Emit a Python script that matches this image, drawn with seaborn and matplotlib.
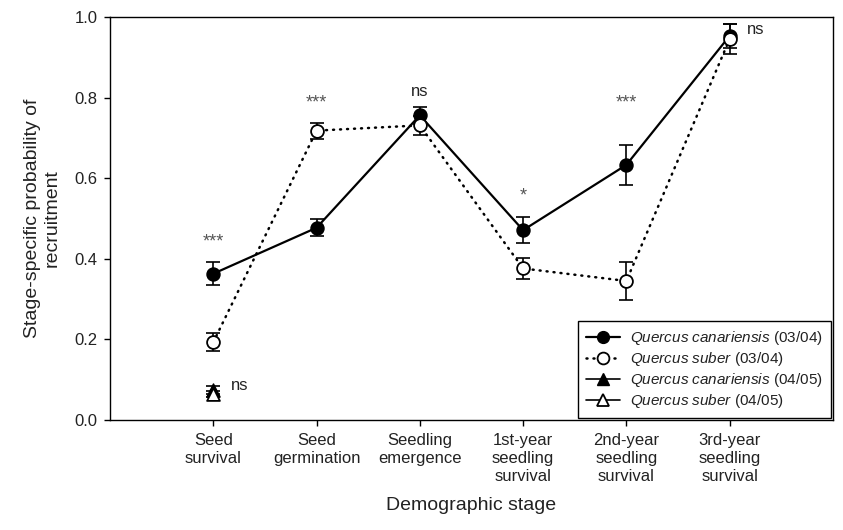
import numpy as np
import pandas as pd
import matplotlib
matplotlib.use("Agg")
import matplotlib.pyplot as plt
import seaborn as sns
from matplotlib.lines import Line2D

# --- data ---
stages = ["Seed\nsurvival", "Seed\ngermination", "Seedling\nemergence",
          "1st-year\nseedling\nsurvival", "2nd-year\nseedling\nsurvival",
          "3rd-year\nseedling\nsurvival"]

canariensis_0304 = [0.363, 0.477, 0.756, 0.471, 0.633, 0.953]
canariensis_0304_err = [0.028, 0.021, 0.021, 0.032, 0.050, 0.030]

suber_0304 = [0.193, 0.718, 0.731, 0.376, 0.345, 0.945]
suber_0304_err = [0.022, 0.020, 0.024, 0.027, 0.046, 0.038]

canariensis_0405 = [0.074]
canariensis_0405_err = [0.010]
suber_0405 = [0.064]
suber_0405_err = [0.008]

# significance labels: (stage index, y position, text)
sig_pos = [0, 1, 2, 3, 4]
sig_y = [0.45, 0.795, 0.815, 0.565, 0.795]
sig_text = ["***", "***", "ns", "*", "***"]

# --- style ---
sns.set_theme(style="ticks")
plt.rcParams["font.family"] = ["Liberation Sans", "DejaVu Sans"]
plt.rcParams["mathtext.fontset"] = "custom"
plt.rcParams["mathtext.rm"] = "Liberation Sans"
plt.rcParams["mathtext.it"] = "Liberation Sans:italic"

fig = plt.figure(figsize=(8.43, 5.30), dpi=100)
ax = fig.add_axes([0.1305, 0.2075, 0.8575, 0.7605])

x = np.arange(len(stages))
df = pd.DataFrame({"x": np.concatenate([x, x]),
                   "p": canariensis_0304 + suber_0304,
                   "species": ["can"] * len(x) + ["sub"] * len(x)})

# error bars first (behind markers)
eb = dict(fmt="none", ecolor="black", elinewidth=1.2, capsize=5, capthick=1.2, zorder=2)
ax.errorbar(x, canariensis_0304, yerr=canariensis_0304_err, **eb)
ax.errorbar(x, suber_0304, yerr=suber_0304_err, **eb)
ax.errorbar([0], canariensis_0405, yerr=canariensis_0405_err, **eb)
ax.errorbar([0], suber_0405, yerr=suber_0405_err, **eb)

# lines
sns.lineplot(data=df[df.species == "can"], x="x", y="p", ax=ax, color="black",
             linewidth=1.6, zorder=3, legend=False)
sns.lineplot(data=df[df.species == "sub"], x="x", y="p", ax=ax, color="black",
             linewidth=1.8, zorder=3, legend=False)
ax.lines[-1].set_dashes((0.4, 2.4))
ax.lines[-1].set_dash_capstyle("round")

# markers
sns.scatterplot(x=x, y=canariensis_0304, ax=ax, marker="o", s=88,
                color="black", edgecolor="black", linewidth=1.0, zorder=4)
sns.scatterplot(x=x, y=suber_0304, ax=ax, marker="o", s=85,
                color="white", edgecolor="black", linewidth=1.3, zorder=4)
sns.scatterplot(x=[0], y=canariensis_0405, ax=ax, marker="^", s=90,
                color="black", edgecolor="black", linewidth=1.0, zorder=4)
sns.scatterplot(x=[0], y=suber_0405, ax=ax, marker="^", s=85,
                color="white", edgecolor="black", linewidth=1.3, zorder=5)

# significance annotations
for xi, yi, t in zip(sig_pos, sig_y, sig_text):
    if t == "ns":
        ax.text(xi, yi, t, ha="center", va="center", fontsize=12, color="#222222")
    else:
        ax.text(xi, yi - 0.008, t, ha="center", va="center", fontsize=13, color="#555555")
ax.text(5.17, 0.968, "ns", ha="left", va="center", fontsize=12, color="#222222")
ax.text(0.17, 0.085, "ns", ha="left", va="center", fontsize=12, color="#222222")

# axes
ax.set_xlim(-1, 6)
ax.set_ylim(0, 1.0)
ax.set_xticks(x)
ax.set_xticklabels(stages, fontsize=12, linespacing=1.25)
ax.set_yticks(np.arange(0, 1.01, 0.2))
ax.set_yticklabels([f"{v:.1f}" for v in np.arange(0, 1.01, 0.2)], fontsize=12)
ax.tick_params(direction="out", length=4, width=1.0, color="black", pad=5,
               labelcolor="#222222")
for sp in ax.spines.values():
    sp.set_visible(True)
    sp.set_color("black")
    sp.set_linewidth(1.0)
ax.set_xlabel("Demographic stage", fontsize=14, color="#222222", labelpad=10)
ax.set_ylabel("Stage-specific probability of\nrecruitment", fontsize=14,
              color="#222222", labelpad=10)

# legend
handles = [
    Line2D([], [], color="black", lw=1.6, marker="o", markersize=8.5,
           markerfacecolor="black", markeredgecolor="black"),
    Line2D([], [], color="black", lw=1.8, linestyle=(0, (0.4, 2.4)),
           dash_capstyle="round", marker="o", markersize=8.5,
           markerfacecolor="white", markeredgecolor="black", markeredgewidth=1.3),
    Line2D([], [], color="black", lw=1.2, marker="^", markersize=8.5,
           markerfacecolor="black", markeredgecolor="black"),
    Line2D([], [], color="black", lw=1.2, marker="^", markersize=8.5,
           markerfacecolor="white", markeredgecolor="black", markeredgewidth=1.3),
]
labels = [r"$\mathit{Quercus\ canariensis}$ (03/04)",
          r"$\mathit{Quercus\ suber}$ (03/04)",
          r"$\mathit{Quercus\ canariensis}$ (04/05)",
          r"$\mathit{Quercus\ suber}$ (04/05)"]
leg = ax.legend(handles, labels, loc="lower right", bbox_to_anchor=(1.0, 0.0),
                fontsize=11, frameon=True, fancybox=False, framealpha=1,
                edgecolor="black", handlelength=2.2, handletextpad=0.7,
                labelspacing=0.2, borderpad=0.55, borderaxespad=0.1)
leg.get_frame().set_linewidth(1.0)
for t in leg.get_texts():
    t.set_color("#222222")

fig.savefig("out.png", dpi=100)
